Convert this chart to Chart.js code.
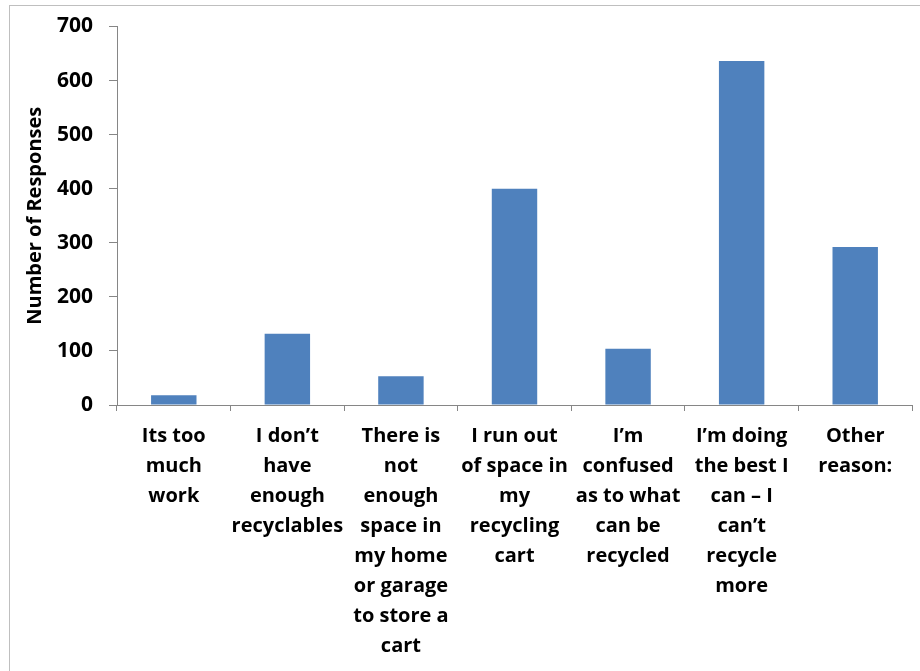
<!DOCTYPE html>
<html>
<head>
<meta charset="utf-8">
<script src="https://cdn.jsdelivr.net/npm/chart.js@4/dist/chart.umd.min.js"></script>
<style>
  html, body { margin: 0; padding: 0; background: #fff; overflow: hidden; }
  #wrap { position: relative; width: 920px; height: 671px; }
  #frame { position: absolute; left: 9px; top: 5px; width: 940px; height: 700px; border: 1px solid #bfbfbf; box-sizing: border-box; }
  canvas { position: absolute; left: 0; top: 0; }
</style>
</head>
<body>
<div id="wrap">
  <div id="frame"></div>
  <canvas id="chart" width="920" height="671"></canvas>
</div>
<script>
// category labels, already broken into lines like the original
const categories = [
  ["Its too", "much", "work"],
  ["I don’t", "have", "enough", "recyclables"],
  ["There is", "not", "enough", "space in", "my home", "or garage", "to store a", "cart"],
  ["I run out", "of space in", "my", "recycling", "cart"],
  ["I’m", "confused", "as to what", "can be", "recycled"],
  ["I’m doing", "the best I", "can – I", "can’t", "recycle", "more"],
  ["Other", "reason:"]
];
const responses = [18, 132, 53, 400, 104, 636, 292];
const yTicks = [0, 100, 200, 300, 400, 500, 600, 700];
const yTitle = "Number of Responses";

const fontFamily = "'Open Sans', Lato, sans-serif";

new Chart(document.getElementById("chart"), {
  type: "bar",
  data: {
    labels: categories,
    datasets: [
      {
        label: yTitle,
        data: responses,
        backgroundColor: "#4f81bd",
        borderWidth: 0,
        categoryPercentage: 1,
        barPercentage: 0.4,
      },
    ],
  },
  options: {
    responsive: false,
    animation: false,
    layout: { padding: { top: 24, right: 8, left: 0, bottom: 0 } },
    scales: {
      x: {
        grid: {
          offset: true,
          drawOnChartArea: false,
          drawTicks: true,
          tickLength: 6,
          color: "#868686",
        },
        border: { color: "#868686", width: 1 },
        ticks: {
          autoSkip: false,
          maxRotation: 0,
          minRotation: 0,
          padding: 10,
          color: "#000",
          font: { family: fontFamily, size: 20, weight: "bold", lineHeight: 1.5 },
        },
        afterFit: (scale) => {
          scale.height = 266;
        },
      },
      y: {
        min: 0,
        max: yTicks[yTicks.length - 1],
        afterBuildTicks: (scale) => {
          scale.ticks = yTicks.map((v) => ({ value: v }));
        },
        grid: {
          drawOnChartArea: false,
          drawTicks: true,
          tickLength: 8,
          color: "#868686",
        },
        border: { color: "#868686", width: 1 },
        ticks: {
          padding: 16,
          color: "#000",
          font: { family: fontFamily, size: 21, weight: "bold", lineHeight: 1 },
        },
        title: {
          display: true,
          text: yTitle,
          color: "#000",
          padding: { top: 23, bottom: 0 },
          font: { family: fontFamily, size: 20, weight: "bold" },
        },
        afterFit: (scale) => {
          scale.width = 117;
        },
      },
    },
    plugins: {
      legend: { display: false },
      tooltip: { enabled: false },
    },
  },
});
</script>
</body>
</html>
